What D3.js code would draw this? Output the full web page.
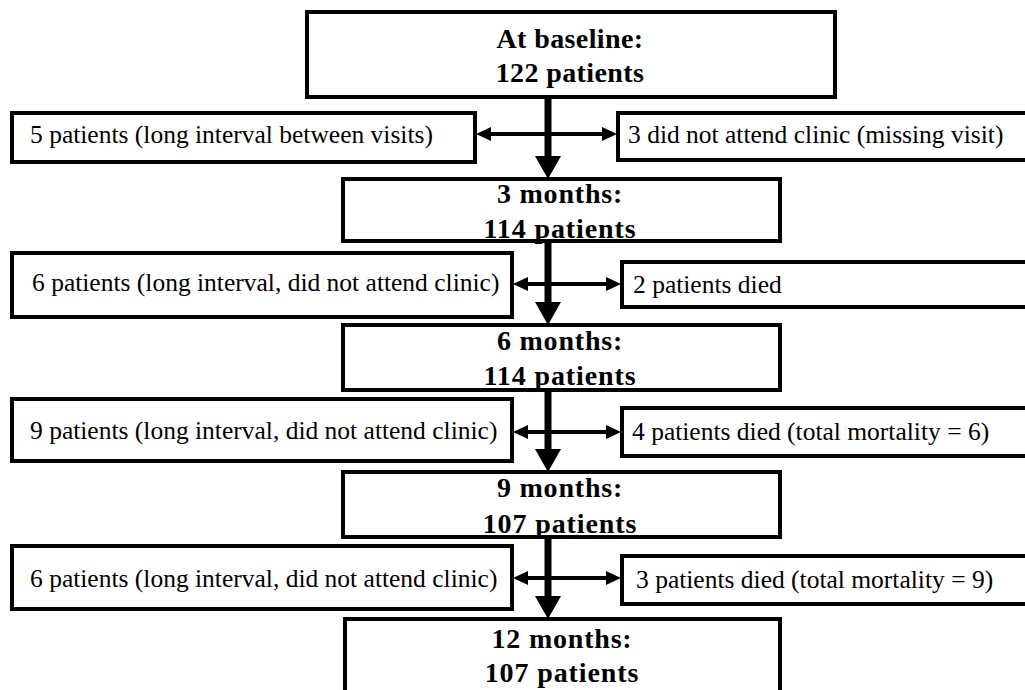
<!DOCTYPE html>
<html>
<head>
<meta charset="utf-8">
<script src="https://cdn.jsdelivr.net/npm/d3@7"></script>
<style>
  html, body { margin: 0; padding: 0; background: #fff; }
  svg { display: block; }
</style>
</head>
<body>
<svg id="chart" width="1025" height="690"></svg>
<script>
// ---------- data ----------
const stageLabels = ["At baseline:", "3 months:", "6 months:", "9 months:", "12 months:"];
const stageCounts = [122, 114, 114, 107, 107];
const leftLabels = [
  "5 patients (long interval between visits)",
  "6 patients (long interval, did not attend clinic)",
  "9 patients (long interval, did not attend clinic)",
  "6 patients (long interval, did not attend clinic)"
];
const rightLabels = [
  "3 did not attend clinic (missing visit)",
  "2 patients died",
  "4 patients died (total mortality = 6)",
  "3 patients died (total mortality = 9)"
];

// ---------- layout (pixel geometry) ----------
const mainGeom = [
  {x0: 307, x1: 835, y0: 12,  y1: 97,  cx: 570, b1: 48,  b2: 82},
  {x0: 343, x1: 780, y0: 179, y1: 241, cx: 560, b1: 203, b2: 238},
  {x0: 343, x1: 780, y0: 325, y1: 390, cx: 560, b1: 350, b2: 385},
  {x0: 343, x1: 780, y0: 472, y1: 537, cx: 560, b1: 497, b2: 533},
  {x0: 345, x1: 780, y0: 619, y1: 705, cx: 562, b1: 648, b2: 682}
];
const leftGeom = [
  {x0: 12, x1: 475, y0: 113, y1: 162, tx: 30, b: 143},
  {x0: 12, x1: 512, y0: 253, y1: 317, tx: 32, b: 291},
  {x0: 12, x1: 512, y0: 399, y1: 461, tx: 30, b: 439},
  {x0: 12, x1: 512, y0: 546, y1: 609, tx: 30, b: 587}
];
const rightGeom = [
  {x0: 618, x1: 1029, y0: 113, y1: 160, tx: 628, b: 143},
  {x0: 622, x1: 1029, y0: 262, y1: 307, tx: 633, b: 293},
  {x0: 622, x1: 1029, y0: 408, y1: 456, tx: 632, b: 440},
  {x0: 622, x1: 1029, y0: 556, y1: 604, tx: 636, b: 588}
];
const arrowY = [134, 284, 432, 578];
const spineX = 548;

const svg = d3.select("#chart");
const serif = "'Liberation Serif', 'Times New Roman', 'DejaVu Serif', serif";

const mainData = stageLabels.map((l, i) => ({label: l, count: stageCounts[i], g: mainGeom[i]}));
const leftData = leftLabels.map((l, i) => ({label: l, g: leftGeom[i]}));
const rightData = rightLabels.map((l, i) => ({label: l, g: rightGeom[i]}));

// ---------- vertical spine arrows ----------
const spine = svg.append("g");
for (let i = 0; i < mainGeom.length - 1; i++) {
  const top = mainGeom[i].y1, bot = mainGeom[i + 1].y0;
  spine.append("rect")
    .attr("x", spineX - 3.5).attr("y", top)
    .attr("width", 7).attr("height", bot - top - 20)
    .attr("fill", "#000");
  spine.append("path")
    .attr("d", d3.line()([[spineX - 13, bot - 23], [spineX + 13, bot - 23], [spineX, bot]]) + "Z")
    .attr("fill", "#000");
}

// ---------- horizontal double arrows ----------
const harr = svg.append("g");
arrowY.forEach((y, i) => {
  const xl = leftGeom[i].x1 + 1, xr = rightGeom[i].x0 - 1;
  harr.append("rect").attr("x", xl + 12).attr("y", y - 2)
    .attr("width", xr - xl - 24).attr("height", 4).attr("fill", "#000");
  harr.append("path")
    .attr("d", d3.line()([[xl, y], [xl + 15, y - 7], [xl + 15, y + 7]]) + "Z")
    .attr("fill", "#000");
  harr.append("path")
    .attr("d", d3.line()([[xr, y], [xr - 15, y - 7], [xr - 15, y + 7]]) + "Z")
    .attr("fill", "#000");
});

// ---------- boxes ----------
function drawBoxes(data) {
  svg.append("g").selectAll("rect").data(data).join("rect")
    .attr("x", d => d.g.x0).attr("y", d => d.g.y0)
    .attr("width", d => d.g.x1 - d.g.x0).attr("height", d => d.g.y1 - d.g.y0)
    .attr("fill", "#fff").attr("stroke", "#000").attr("stroke-width", 4);
}
drawBoxes(mainData);
drawBoxes(leftData);
drawBoxes(rightData);

// ---------- text ----------
const mt = svg.append("g").attr("font-family", serif).attr("font-weight", "bold")
  .attr("font-size", 28).attr("text-anchor", "middle").attr("fill", "#000");
mt.selectAll("text.l1").data(mainData).join("text").attr("class", "l1")
  .attr("x", d => d.g.cx).attr("y", d => d.g.b1)
  .attr("letter-spacing", (d, i) => i === 0 ? 0.4 : 0.8)
  .text(d => d.label);
mt.selectAll("text.l2").data(mainData).join("text").attr("class", "l2")
  .attr("x", d => d.g.cx).attr("y", d => d.g.b2)
  .attr("letter-spacing", (d, i) => i === 0 ? 0.4 : 0.9)
  .text(d => d.count + " patients");

const st = svg.append("g").attr("font-family", serif).attr("font-size", 25.5).attr("fill", "#000");
st.selectAll("text.lt").data(leftData).join("text").attr("class", "lt")
  .attr("x", d => d.g.tx).attr("y", d => d.g.b).text(d => d.label);
st.selectAll("text.rt").data(rightData).join("text").attr("class", "rt")
  .attr("x", d => d.g.tx).attr("y", d => d.g.b).text(d => d.label);
</script>
</body>
</html>
